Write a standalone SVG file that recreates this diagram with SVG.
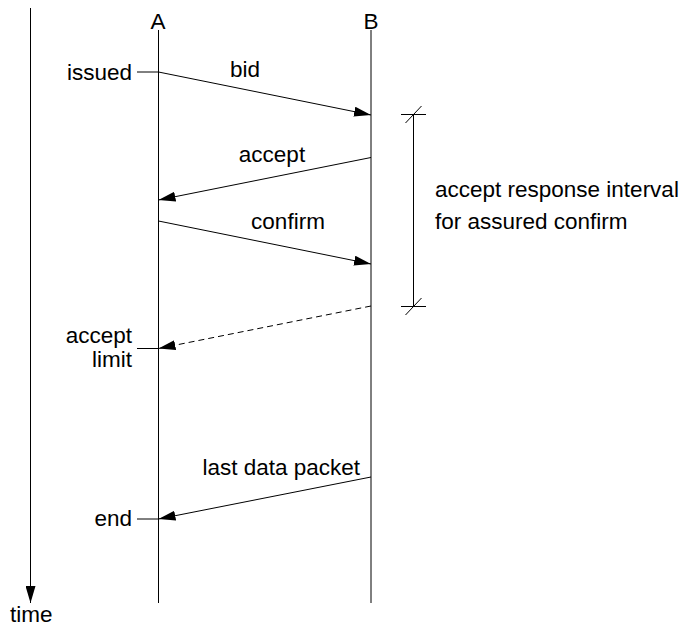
<svg xmlns="http://www.w3.org/2000/svg" width="681" height="626" viewBox="0 0 681 626">
<style>
text{font-family:"Liberation Sans",Arial,sans-serif;font-size:22.5px;fill:#000}
.l{stroke:#000;stroke-width:1;fill:none}
.e{text-anchor:end}
.m{text-anchor:middle}
</style>
<defs>
<marker id="ah" viewBox="0 0 17 10" refX="17" refY="5" markerWidth="17" markerHeight="10" markerUnits="userSpaceOnUse" orient="auto">
<path d="M0,0 L17,5 L0,10 Z" fill="#000"/>
</marker>
</defs>
<rect width="681" height="626" fill="#fff"/>
<g id="time-axis">
<line class="l" x1="30.5" y1="8" x2="30.5" y2="603" marker-end="url(#ah)"/>
<text x="10" y="622">time</text>
</g>
<g id="A">
<line class="l" x1="158.5" y1="30" x2="158.5" y2="603"/>
<text class="m" x="158" y="29">A</text>
</g>
<g id="B">
<line class="l" x1="371" y1="30" x2="371" y2="603" stroke="#333"/>
<text class="m" x="371" y="29">B</text>
</g>
<g id="interval">
<line class="l" x1="413.5" y1="114" x2="413.5" y2="306"/>
<line class="l" x1="401" y1="114.5" x2="426" y2="114.5"/>
<line class="l" x1="405.5" y1="123" x2="421.5" y2="106"/>
<line class="l" x1="401" y1="306.5" x2="426" y2="306.5"/>
<line class="l" x1="405.5" y1="315" x2="421.5" y2="298"/>
<text x="435" y="197">accept response interval</text>
<text x="435" y="229">for assured confirm</text>
</g>
<g id="labels">
<text class="e" x="132" y="80">issued</text>
<text class="e" x="132" y="343">accept</text>
<text class="e" x="132" y="367">limit</text>
<text class="e" x="132" y="526">end</text>
</g>
<g id="connectors">
<line class="l" x1="137" y1="72" x2="158" y2="72"/>
<line class="l" x1="137" y1="348.5" x2="158" y2="348.5"/>
<line class="l" x1="137" y1="519" x2="158" y2="519"/>
<line class="l" x1="158.5" y1="72" x2="371" y2="115" marker-end="url(#ah)"/>
<text class="m" x="245" y="77">bid</text>
<line class="l" x1="371" y1="157.5" x2="158.5" y2="200" marker-end="url(#ah)"/>
<text class="m" x="272" y="162">accept</text>
<line class="l" x1="158.5" y1="221" x2="371" y2="264" marker-end="url(#ah)"/>
<text class="m" x="288" y="229">confirm</text>
<line class="l" x1="371" y1="306" x2="158.5" y2="348.5" stroke-dasharray="6,4" marker-end="url(#ah)"/>
<line class="l" x1="371" y1="477" x2="158.5" y2="519" marker-end="url(#ah)"/>
<text class="e" x="360" y="475">last data packet</text>
</g>
</svg>
